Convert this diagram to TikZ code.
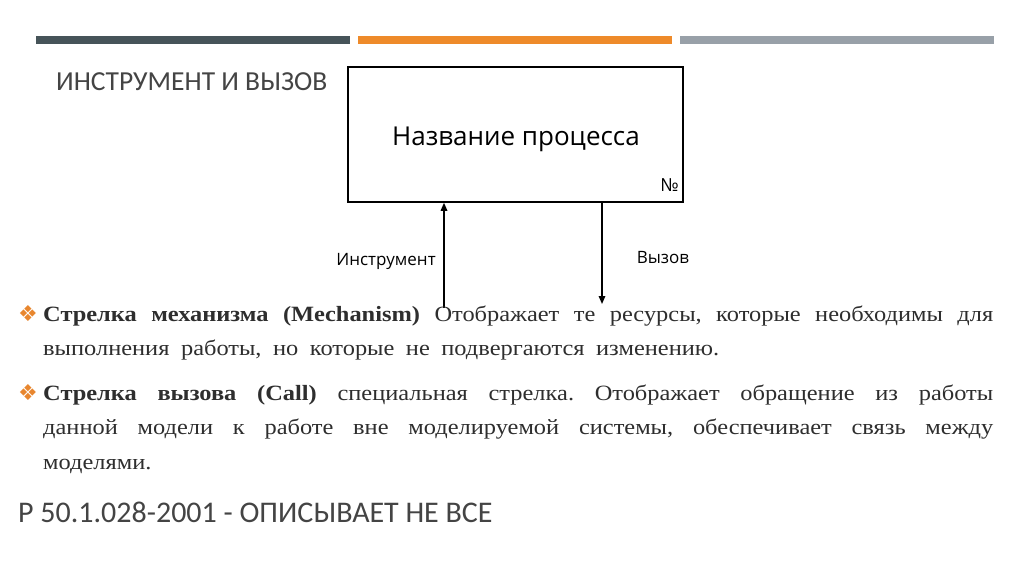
\documentclass[tikz,border=0pt]{standalone}
\usepackage{fontspec}
\setmainfont{Liberation Serif}
\newfontfamily\bodyfont{Liberation Serif}[FakeStretch=1.12]
\newfontfamily\carl{Carlito}
\newfontfamily\opens{Open Sans}
\newfontfamily\dejavu{DejaVu Sans}
\usetikzlibrary{arrows.meta}
\definecolor{bardark}{HTML}{465459}
\definecolor{barorange}{HTML}{EE8A2A}
\definecolor{bargray}{HTML}{98A0A8}
\definecolor{txtgray}{HTML}{444444}
\definecolor{bodytxt}{HTML}{2E2E2E}
\definecolor{bulletor}{HTML}{E8862E}
\frenchspacing
\begin{document}
\begin{tikzpicture}[x=1pt,y=-1pt,
  bar/.style={draw=none,inner sep=0,minimum height=8pt,minimum width=314pt,anchor=north west},
  txt/.style={inner sep=0,anchor=base west},
  body/.style={txt,font=\bodyfont\fontsize{21.8}{25}\selectfont\frenchspacing,text=bodytxt},
  bul/.style={inner sep=0,anchor=center,font=\dejavu\fontsize{22}{24}\selectfont,text=bulletor},
  conn/.style={line width=1.5pt,-{Triangle[length=8pt,width=6.5pt]}}]
\useasboundingbox (0,0) rectangle (1024,574);
\fill[white] (0,0) rectangle (1024,574);
% top bars
\node[bar,fill=bardark] (b1) at (36,36) {};
\node[bar,fill=barorange] (b2) at (358,36) {};
\node[bar,fill=bargray] (b3) at (680,36) {};
% title
\node[txt,font=\carl\fontsize{27.5}{32}\selectfont,text=txtgray] (title) at (56,90) {ИНСТРУМЕНТ И ВЫЗОВ};
% process box
\node[draw,line width=1.5pt,minimum width=335pt,minimum height=135pt,inner sep=0] (box) at (515.5,134.5) {};
\node[inner sep=0,anchor=base,font=\opens\fontsize{26}{30}\selectfont] (pname) at (516,145) {Название процесса};
\node[inner sep=0,anchor=base east,font=\opens\fontsize{18}{21}\selectfont] (num) at (679,191) {№};
% arrows
\coordinate (mstart) at (444,308);
\coordinate (cend) at (602,304);
\draw[conn] (mstart) -- (mstart |- box.south);
\draw[conn] (cend |- box.south) -- (cend);
\node[inner sep=0,anchor=base,font=\opens\fontsize{17}{20}\selectfont] (lmech) at (386,265) {Инструмент};
\node[inner sep=0,anchor=base,font=\opens\fontsize{17}{20}\selectfont] (lcall) at (663,263) {Вызов};
% bullets
\node[bul] (bu1) at (28,314) {❖};
\node[bul] (bu2) at (28,393) {❖};
\node[body] (l1) at (43,321) {\makebox[950pt][s]{\textbf{Стрелка механизма (Mechanism)} Отображает те ресурсы, которые необходимы для}};
\node[body] (l2) at (43,355) {\makebox[676pt][s]{выполнения работы, но которые не подвергаются изменению.}};
\node[body] (l3) at (43,400) {\makebox[950pt][s]{\textbf{Стрелка вызова (Call)} специальная стрелка. Отображает обращение из работы}};
\node[body] (l4) at (43,434.5) {\makebox[950pt][s]{данной модели к работе вне моделируемой системы, обеспечивает связь между}};
\node[body] (l5) at (43,469) {моделями.};
% bottom
\node[txt,font=\carl\fontsize{30}{35}\selectfont,text=txtgray] (foot) at (18,522) {Р 50.1.028-2001 - ОПИСЫВАЕТ НЕ ВСЕ};
\end{tikzpicture}
\end{document}
